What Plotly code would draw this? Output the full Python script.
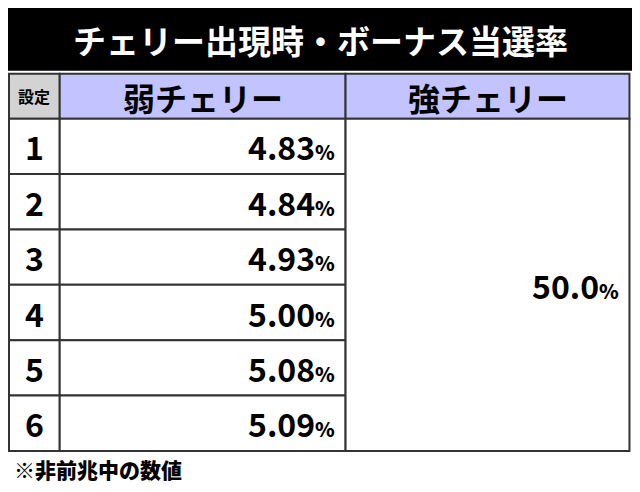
import plotly.graph_objects as go

title = "チェリー出現時・ボーナス当選率"
headers = ["設定", "弱チェリー", "強チェリー"]
settings = ["1", "2", "3", "4", "5", "6"]
weak_cherry = ["4.83", "4.84", "4.93", "5.00", "5.08", "5.09"]
strong_cherry = "50.0"
note = "※非前兆中の数値"

FONT = "Noto Sans CJK JP"
col_x = [1, 53, 346, 637]
head_top, head_bot = 67, 113
row_h = (452 - head_bot) / len(settings)
line = dict(color="#333333", width=2)

fig = go.Figure()
fig.add_trace(go.Scatter(x=[0], y=[0], mode="markers", marker=dict(opacity=0), hoverinfo="skip"))

shapes = [dict(type="rect", x0=0, x1=640, y0=0, y1=64, fillcolor="black", line=dict(width=0))]
head_fill = ["#d3d3d3", "#c3c3ff", "#c3c3ff"]
for i in range(3):
    shapes.append(dict(type="rect", x0=col_x[i], x1=col_x[i + 1], y0=head_top, y1=head_bot,
                       fillcolor=head_fill[i], line=line))
for r in range(len(settings)):
    y0 = head_bot + r * row_h
    for i in range(2):
        shapes.append(dict(type="rect", x0=col_x[i], x1=col_x[i + 1], y0=y0, y1=y0 + row_h,
                           fillcolor="white", line=line))
shapes.append(dict(type="rect", x0=col_x[2], x1=col_x[3], y0=head_bot, y1=452,
                   fillcolor="white", line=line))

ann = [dict(x=320, y=33, text="<b>" + title + "</b>", font=dict(size=33, color="white"))]
ann.append(dict(x=(col_x[0] + col_x[1]) / 2, y=(head_top + head_bot) / 2, text="<b>" + headers[0] + "</b>",
                font=dict(size=16, color="black")))
for i in (1, 2):
    ann.append(dict(x=(col_x[i] + col_x[i + 1]) / 2, y=(head_top + head_bot) / 2 + 1,
                    text="<b>" + headers[i] + "</b>", font=dict(size=32, color="black")))
for r, (s, v) in enumerate(zip(settings, weak_cherry)):
    yc = head_bot + (r + 0.5) * row_h
    ann.append(dict(x=27, y=yc, text="<b>" + s + "</b>", font=dict(size=32, color="black")))
    ann.append(dict(x=337, y=yc, xanchor="right", text="<b>" + v + "</b><span style='font-size:20px'>%</span>",
                    font=dict(size=32, color="black")))
ann.append(dict(x=628, y=(head_bot + 452) / 2, xanchor="right",
                text="<b>" + strong_cherry + "</b><span style='font-size:20px'>%</span>",
                font=dict(size=32, color="black")))
ann.append(dict(x=4, y=470, xanchor="left", text=note, font=dict(size=21, color="black")))
for a in ann:
    a.update(xref="x", yref="y", showarrow=False)
    a.setdefault("xanchor", "center")
    a["font"]["family"] = FONT
    a["font"]["weight"] = 900

fig.update_layout(
    width=640, height=492, margin=dict(l=0, r=0, t=0, b=0),
    paper_bgcolor="white", plot_bgcolor="white", showlegend=False,
    xaxis=dict(range=[0, 656], visible=False, fixedrange=True),
    yaxis=dict(range=[502, 0], visible=False, fixedrange=True),
    shapes=shapes, annotations=ann,
)
fig.write_html("out.html")
